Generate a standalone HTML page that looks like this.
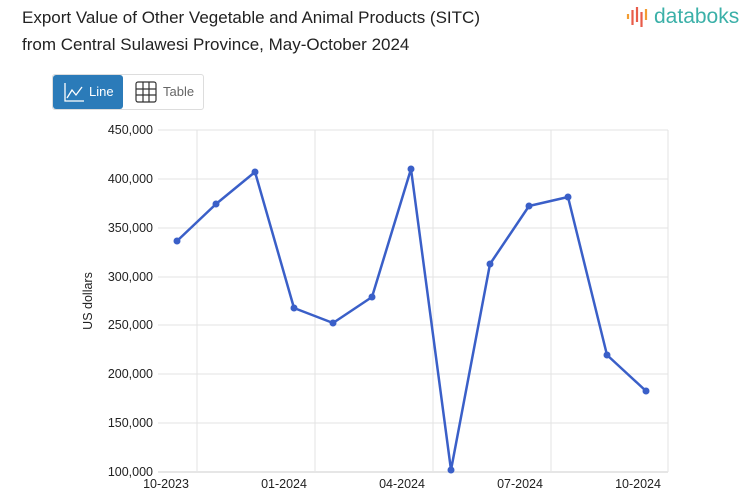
<!DOCTYPE html>
<html><head><style>
body{margin:0;background:#fff;font-family:"Liberation Sans",sans-serif;}
.t{position:absolute;left:22px;top:4px;font-size:17px;line-height:27px;color:#222;}
.btns{position:absolute;left:52px;top:74px;width:150px;height:34px;border:1px solid #ddd;border-radius:3px;}
.b1{position:absolute;left:0;top:0;width:70px;height:34px;background:#2b7bb9;border-radius:3px;color:#fff;font-size:13px;}
.b2{position:absolute;left:80px;top:0;color:#666;font-size:13px;}
</style></head><body>
<div class="t">Export Value of Other Vegetable and Animal Products (SITC)<br>from Central Sulawesi Province, May-October 2024</div>
<div style="position:absolute;left:626px;top:5px;">
<svg width="26" height="24"><g stroke-width="2.2"><line x1="2" y1="9" x2="2" y2="14" stroke="#f39c32"/><line x1="6.5" y1="5" x2="6.5" y2="20" stroke="#e85c4a"/><line x1="11" y1="2" x2="11" y2="17" stroke="#e85c4a"/><line x1="15.5" y1="7" x2="15.5" y2="22" stroke="#e85c4a"/><line x1="20" y1="4" x2="20" y2="15" stroke="#f39c32"/></g></svg>
<span style="position:absolute;left:28px;top:0px;font-size:21px;color:#3bb0a8;">databoks</span></div>
<div class="btns"><div class="b1">
<svg style="position:absolute;left:10px;top:6px" width="22" height="22" fill="none" stroke="#fff" stroke-width="1.3"><path d="M2 2V20H21"/><path d="M4 17L9 9L13 14L19 6"/></svg>
<span style="position:absolute;left:36px;top:9px">Line</span></div>
<div class="b2"><svg style="position:absolute;left:2px;top:6px" width="22" height="22" fill="none" stroke="#333" stroke-width="1.2"><rect x="1" y="1" width="20" height="20" rx="2"/><path d="M8 1V21M14 1V21M1 8H21M1 14H21"/></svg>
<span style="position:absolute;left:30px;top:9px;color:#666">Table</span></div></div>
<svg width="753" height="498" style="position:absolute;left:0;top:0">
<g stroke="#e3e3e3" stroke-width="1">
<line x1="158" y1="130" x2="668" y2="130"/><line x1="158" y1="179" x2="668" y2="179"/><line x1="158" y1="228" x2="668" y2="228"/><line x1="158" y1="277" x2="668" y2="277"/><line x1="158" y1="325" x2="668" y2="325"/><line x1="158" y1="374" x2="668" y2="374"/><line x1="158" y1="423" x2="668" y2="423"/>
<line x1="197" y1="130" x2="197" y2="472"/><line x1="315" y1="130" x2="315" y2="472"/><line x1="433" y1="130" x2="433" y2="472"/><line x1="551" y1="130" x2="551" y2="472"/><line x1="668" y1="130" x2="668" y2="472"/>
</g>
<line x1="158" y1="472" x2="668" y2="472" stroke="#e6e6e6" stroke-width="2"/>
<g font-size="12.5" fill="#222" text-anchor="end">
<text x="153" y="134">450,000</text><text x="153" y="183">400,000</text><text x="153" y="232">350,000</text><text x="153" y="281">300,000</text><text x="153" y="329">250,000</text><text x="153" y="378">200,000</text><text x="153" y="427">150,000</text><text x="153" y="476">100,000</text></g>
<g font-size="12.5" fill="#222" text-anchor="middle">
<text x="166" y="488">10-2023</text><text x="284" y="488">01-2024</text><text x="402" y="488">04-2024</text><text x="520" y="488">07-2024</text><text x="638" y="488">10-2024</text></g>
<text transform="translate(92,301) rotate(-90)" font-size="12.5" fill="#222" text-anchor="middle">US dollars</text>
<polyline fill="none" stroke="#3a5fc8" stroke-width="2.5" stroke-linejoin="round" points="177,241 216,204 255,172 294,308 333,323 372,297 411,169 451,470 490,264 529,206 568,197 607,355 646,391"/>
<g fill="#3a5fc8"><circle cx="177" cy="241" r="3.5"/><circle cx="216" cy="204" r="3.5"/><circle cx="255" cy="172" r="3.5"/><circle cx="294" cy="308" r="3.5"/><circle cx="333" cy="323" r="3.5"/><circle cx="372" cy="297" r="3.5"/><circle cx="411" cy="169" r="3.5"/><circle cx="451" cy="470" r="3.5"/><circle cx="490" cy="264" r="3.5"/><circle cx="529" cy="206" r="3.5"/><circle cx="568" cy="197" r="3.5"/><circle cx="607" cy="355" r="3.5"/><circle cx="646" cy="391" r="3.5"/></g>
</svg>
</body></html>
